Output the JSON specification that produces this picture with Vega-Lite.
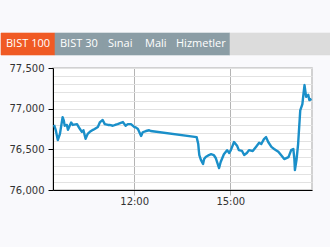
{
  "$schema": "https://vega.github.io/schema/vega-lite/v6.json",
  "background": "#f9f9fc",
  "padding": {"left": 0, "top": 32, "right": 0, "bottom": 41},
  "spacing": 6,
  "config": {"axis": {"labelFont": "DejaVu Sans", "labelFontSize": 10, "labelColor": "#333"}},
  "vconcat": [
    {
      "width": 278,
      "height": 22,
      "view": {"fill": null, "stroke": null},
      "data": {"values": [
        {"i": 1, "tab": "BIST 100", "active": 1},
        {"i": 2, "tab": "BIST 30", "active": 0},
        {"i": 3, "tab": "Sınai", "active": 0},
        {"i": 4, "tab": "Mali", "active": 0},
        {"i": 5, "tab": "Hizmetler", "active": 0},
        {"i": 6, "tab": "", "active": 2}
      ]},
      "transform": [
        {"calculate": "datum.active == 2 ? 101 : round(length(datum.tab) * 5.6 + 9)", "as": "w"},
        {"stack": "w", "groupby": [], "sort": [{"field": "i"}], "as": ["x0", "x1"]}
      ],
      "layer": [
        {
          "mark": {"type": "rect", "strokeWidth": 0.6},
          "encoding": {
            "x": {"field": "x0", "type": "quantitative", "scale": {"domain": [0, 330], "range": [-52, 278], "nice": false}, "axis": null},
            "x2": {"field": "x1"},
            "color": {"condition": [
              {"test": "datum.active == 1", "value": "#f05a24"},
              {"test": "datum.active == 0", "value": "#8b9da5"}
            ], "value": "#dcdcdc"},
            "stroke": {"condition": [
              {"test": "datum.active == 1", "value": "#f05a24"},
              {"test": "datum.active == 0", "value": "#8b9da5"}
            ], "value": "#dcdcdc"}
          }
        },
        {
          "mark": {"type": "text", "align": "left", "baseline": "middle", "dx": 5, "color": "white", "font": "Open Sans", "fontSize": 11},
          "encoding": {
            "x": {"field": "x0", "type": "quantitative"},
            "text": {"field": "tab"}
          }
        }
      ]
    },
    {
      "width": 259,
      "height": 122,
      "view": {"fill": "white", "stroke": "#c4c4c4", "strokeWidth": 1.5},
      "data": {
        "values": [
          {"t": "09:30", "v": 76800}, {"t": "09:33", "v": 76740}, {"t": "09:37", "v": 76615}, {"t": "09:41", "v": 76690},
          {"t": "09:46", "v": 76895}, {"t": "09:48", "v": 76860}, {"t": "09:50", "v": 76790}, {"t": "09:54", "v": 76800},
          {"t": "09:56", "v": 76740}, {"t": "10:02", "v": 76830}, {"t": "10:05", "v": 76800}, {"t": "10:13", "v": 76810},
          {"t": "10:16", "v": 76775}, {"t": "10:22", "v": 76715}, {"t": "10:25", "v": 76735}, {"t": "10:29", "v": 76630},
          {"t": "10:33", "v": 76690}, {"t": "10:37", "v": 76715}, {"t": "10:43", "v": 76740}, {"t": "10:46", "v": 76750},
          {"t": "10:52", "v": 76775}, {"t": "10:56", "v": 76835}, {"t": "11:01", "v": 76860}, {"t": "11:05", "v": 76810},
          {"t": "11:11", "v": 76800}, {"t": "11:14", "v": 76800}, {"t": "11:20", "v": 76790}, {"t": "11:26", "v": 76805},
          {"t": "11:29", "v": 76810}, {"t": "11:35", "v": 76825}, {"t": "11:39", "v": 76835}, {"t": "11:44", "v": 76790},
          {"t": "11:48", "v": 76810}, {"t": "11:54", "v": 76810}, {"t": "12:00", "v": 76775}, {"t": "12:03", "v": 76770},
          {"t": "12:07", "v": 76750}, {"t": "12:13", "v": 76665}, {"t": "12:16", "v": 76710}, {"t": "12:22", "v": 76725},
          {"t": "12:28", "v": 76735}, {"t": "12:31", "v": 76725}, {"t": "13:57", "v": 76650}, {"t": "14:00", "v": 76565},
          {"t": "14:01", "v": 76490}, {"t": "14:02", "v": 76430}, {"t": "14:05", "v": 76370}, {"t": "14:09", "v": 76320},
          {"t": "14:11", "v": 76380}, {"t": "14:14", "v": 76405}, {"t": "14:20", "v": 76430}, {"t": "14:24", "v": 76440},
          {"t": "14:29", "v": 76430}, {"t": "14:33", "v": 76390}, {"t": "14:39", "v": 76270}, {"t": "14:42", "v": 76345},
          {"t": "14:48", "v": 76440}, {"t": "14:54", "v": 76490}, {"t": "14:58", "v": 76455}, {"t": "15:01", "v": 76490},
          {"t": "15:07", "v": 76590}, {"t": "15:13", "v": 76540}, {"t": "15:16", "v": 76490}, {"t": "15:22", "v": 76480},
          {"t": "15:26", "v": 76430}, {"t": "15:31", "v": 76455}, {"t": "15:35", "v": 76490}, {"t": "15:42", "v": 76480},
          {"t": "15:48", "v": 76530}, {"t": "15:54", "v": 76580}, {"t": "15:58", "v": 76565}, {"t": "16:03", "v": 76625},
          {"t": "16:07", "v": 76650}, {"t": "16:11", "v": 76590}, {"t": "16:17", "v": 76530}, {"t": "16:22", "v": 76505},
          {"t": "16:30", "v": 76470}, {"t": "16:35", "v": 76430}, {"t": "16:41", "v": 76380}, {"t": "16:49", "v": 76405},
          {"t": "16:54", "v": 76490}, {"t": "16:58", "v": 76505}, {"t": "17:00", "v": 76380}, {"t": "17:01", "v": 76245},
          {"t": "17:04", "v": 76370}, {"t": "17:07", "v": 76565}, {"t": "17:11", "v": 76980}, {"t": "17:15", "v": 77055},
          {"t": "17:17", "v": 77180}, {"t": "17:19", "v": 77290}, {"t": "17:22", "v": 77145}, {"t": "17:26", "v": 77170},
          {"t": "17:28", "v": 77105}, {"t": "17:32", "v": 77120}
        ],
        "format": {"parse": {"t": "date:'%H:%M'"}}
      },
      "mark": {"type": "line", "color": "#1a8fc9", "strokeWidth": 2.4, "strokeJoin": "round"},
      "encoding": {
        "x": {
          "field": "t", "type": "temporal",
          "scale": {"domain": [
            {"year": 1900, "month": 1, "date": 1, "hours": 9, "minutes": 28},
            {"year": 1900, "month": 1, "date": 1, "hours": 17, "minutes": 33}
          ]},
          "axis": {
            "title": null,
            "values": [
              {"year": 1900, "month": 1, "date": 1, "hours": 12, "minutes": 0},
              {"year": 1900, "month": 1, "date": 1, "hours": 15, "minutes": 0}
            ],
            "format": "%H:%M",
            "grid": true, "gridColor": "#b4b4b4",
            "tickColor": "#b4b4b4", "tickSize": 5,
            "domainColor": "#000",
            "labelPadding": 1
          }
        },
        "y": {
          "field": "v", "type": "quantitative",
          "scale": {"domain": [76000, 77500], "nice": false, "zero": false},
          "axis": {
            "title": null,
            "values": [76000, 76100, 76200, 76300, 76400, 76500, 76600, 76700, 76800, 76900, 77000, 77100, 77200, 77300, 77400, 77500],
            "labelExpr": "datum.value % 500 === 0 ? format(datum.value, ',') : ''",
            "grid": true, "gridColor": "#e2e2e2",
            "tickColor": {"condition": {"test": "datum.value % 500 === 0", "value": "#000"}, "value": "rgba(0,0,0,0)"},
            "tickSize": 5,
            "labelPadding": 4,
            "domainColor": "#000"
          }
        }
      }
    }
  ]
}
